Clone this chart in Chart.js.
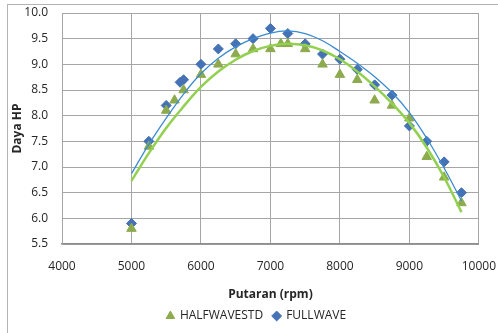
<!DOCTYPE html>
<html>
<head>
<meta charset="utf-8">
<script src="https://cdn.jsdelivr.net/npm/chart.js@4.4.1/dist/chart.umd.min.js"></script>
<style>
    html, body { margin: 0; padding: 0; background: #fff; }
    #wrap { position: relative; width: 498px; height: 333px; overflow: hidden; }
    #frame { position: absolute; left: 7px; top: 4px; width: 540px; height: 380px; border: 1px solid #b4b4b4; }
    canvas { position: absolute; left: 0; top: 0; }
</style>
</head>
<body>
<div id="wrap">
    <div id="frame"></div>
    <canvas id="chart" width="498" height="333"></canvas>
</div>
<script>
// measured points
const halfRpm = [5000, 5250, 5500, 5620, 5750, 6000, 6250, 6500, 6750, 7000, 7150, 7250, 7500, 7750, 8000, 8250, 8500, 8750, 9000, 9250, 9500, 9750];
const halfHp  = [5.8, 7.4, 8.1, 8.3, 8.5, 8.8, 9.0, 9.2, 9.3, 9.3, 9.4, 9.4, 9.3, 9.0, 8.8, 8.7, 8.3, 8.2, 7.95, 7.2, 6.8, 6.3];

const fullRpm = [5000, 5250, 5500, 5700, 5750, 6000, 6250, 6500, 6750, 7000, 7250, 7500, 7750, 8000, 8250, 8500, 8750, 9000, 9250, 9500, 9750];
const fullHp  = [5.9, 7.5, 8.2, 8.65, 8.7, 9.0, 9.3, 9.4, 9.5, 9.7, 9.6, 9.4, 9.2, 9.1, 8.9, 8.6, 8.4, 7.8, 7.5, 7.1, 6.5];

// trendlines
const trendRpm  = [5000, 5250, 5500, 5750, 6000, 6250, 6500, 6750, 7000, 7250, 7500, 7750, 8000, 8250, 8500, 8750, 9000, 9250, 9500, 9750];
const fullTrend = [6.87, 7.44, 7.95, 8.42, 8.82, 9.12, 9.34, 9.50, 9.61, 9.65, 9.60, 9.46, 9.25, 9.02, 8.76, 8.45, 8.06, 7.56, 6.98, 6.34];
const halfTrend = [6.73, 7.27, 7.76, 8.18, 8.56, 8.86, 9.09, 9.26, 9.36, 9.40, 9.37, 9.27, 9.10, 8.86, 8.57, 8.24, 7.86, 7.38, 6.80, 6.12];

const xTicks = [4000, 5000, 6000, 7000, 8000, 9000, 10000];
const yTicks = [5.5, 6.0, 6.5, 7.0, 7.5, 8.0, 8.5, 9.0, 9.5, 10.0];

const FONT = "'Open Sans', sans-serif";
const TEXT = '#262626';
const GRID = '#a6a6a6';
const NO_TICK = 'rgba(0,0,0,0)';
const LEGEND_DX = 4;
const LEGEND_DY = -2;

const toPoints = (xs, ys) => xs.map((x, i) => ({ x: x, y: ys[i] }));

// nudge the bottom legend so it sits where the original one is
const legendShift = {
    id: 'legendShift',
    afterLayout(chart) {
        const lg = chart.legend;
        lg.left += LEGEND_DX;
        lg.right += LEGEND_DX;
        lg.top += LEGEND_DY;
        lg.bottom += LEGEND_DY;
    }
};

const ctx = document.getElementById('chart').getContext('2d');
new Chart(ctx, {
    type: 'scatter',
    data: {
        datasets: [
            {
                label: 'trend full',
                data: toPoints(trendRpm, fullTrend),
                showLine: true,
                tension: 0.4,
                borderColor: '#3b8ad2',
                borderWidth: 1.3,
                pointRadius: 0
            },
            {
                label: 'trend half',
                data: toPoints(trendRpm, halfTrend),
                showLine: true,
                tension: 0.4,
                borderColor: '#92d050',
                borderWidth: 2.5,
                pointRadius: 0
            },
            {
                label: 'HALFWAVESTD',
                data: toPoints(halfRpm, halfHp),
                pointStyle: 'triangle',
                pointRadius: 5.5,
                backgroundColor: '#8dab4e',
                borderColor: '#8dab4e',
                borderWidth: 1
            },
            {
                label: 'FULLWAVE',
                data: toPoints(fullRpm, fullHp),
                pointStyle: 'rectRot',
                pointRadius: 5,
                backgroundColor: '#4472b4',
                borderColor: '#4472b4',
                borderWidth: 1
            }
        ]
    },
    options: {
        responsive: false,
        animation: false,
        layout: {
            autoPadding: false,
            padding: { left: 8, right: 1, top: 13, bottom: -1 }
        },
        scales: {
            x: {
                type: 'linear',
                min: 4000,
                max: 10000,
                afterBuildTicks: s => { s.ticks = xTicks.map(v => ({ value: v })); },
                afterFit: s => { s.height = 58; },
                grid: { color: GRID, lineWidth: 1, drawTicks: true, tickLength: 13, tickColor: NO_TICK },
                border: { color: '#8c8c8c', width: 1.5 },
                ticks: {
                    padding: 2,
                    color: TEXT,
                    font: { family: FONT, size: 12 },
                    maxRotation: 0,
                    callback: v => String(v)
                },
                title: {
                    display: true,
                    text: 'Putaran (rpm)',
                    color: TEXT,
                    font: { family: FONT, size: 12, weight: 'bold' },
                    padding: { top: 4, bottom: 0 }
                }
            },
            y: {
                min: 5.5,
                max: 10,
                afterBuildTicks: s => { s.ticks = yTicks.map(v => ({ value: v })); },
                afterFit: s => { s.width = 54; },
                grid: { color: GRID, lineWidth: 1, drawTicks: true, tickLength: 12, tickColor: NO_TICK },
                border: { color: GRID, width: 1 },
                ticks: {
                    padding: 2,
                    color: TEXT,
                    font: { family: FONT, size: 12 },
                    callback: v => v.toFixed(1)
                },
                title: {
                    display: true,
                    text: 'Daya HP',
                    color: TEXT,
                    font: { family: FONT, size: 12, weight: 'bold' },
                    padding: { top: 2, bottom: 2 }
                }
            }
        },
        plugins: {
            tooltip: { enabled: false },
            legend: {
                position: 'bottom',
                labels: {
                    filter: item => item.text === 'HALFWAVESTD' || item.text === 'FULLWAVE',
                    usePointStyle: true,
                    boxHeight: 7,
                    boxWidth: 7,
                    padding: 10,
                    color: TEXT,
                    font: { family: FONT, size: 12 }
                }
            }
        }
    },
    plugins: [legendShift]
});
</script>
</body>
</html>
